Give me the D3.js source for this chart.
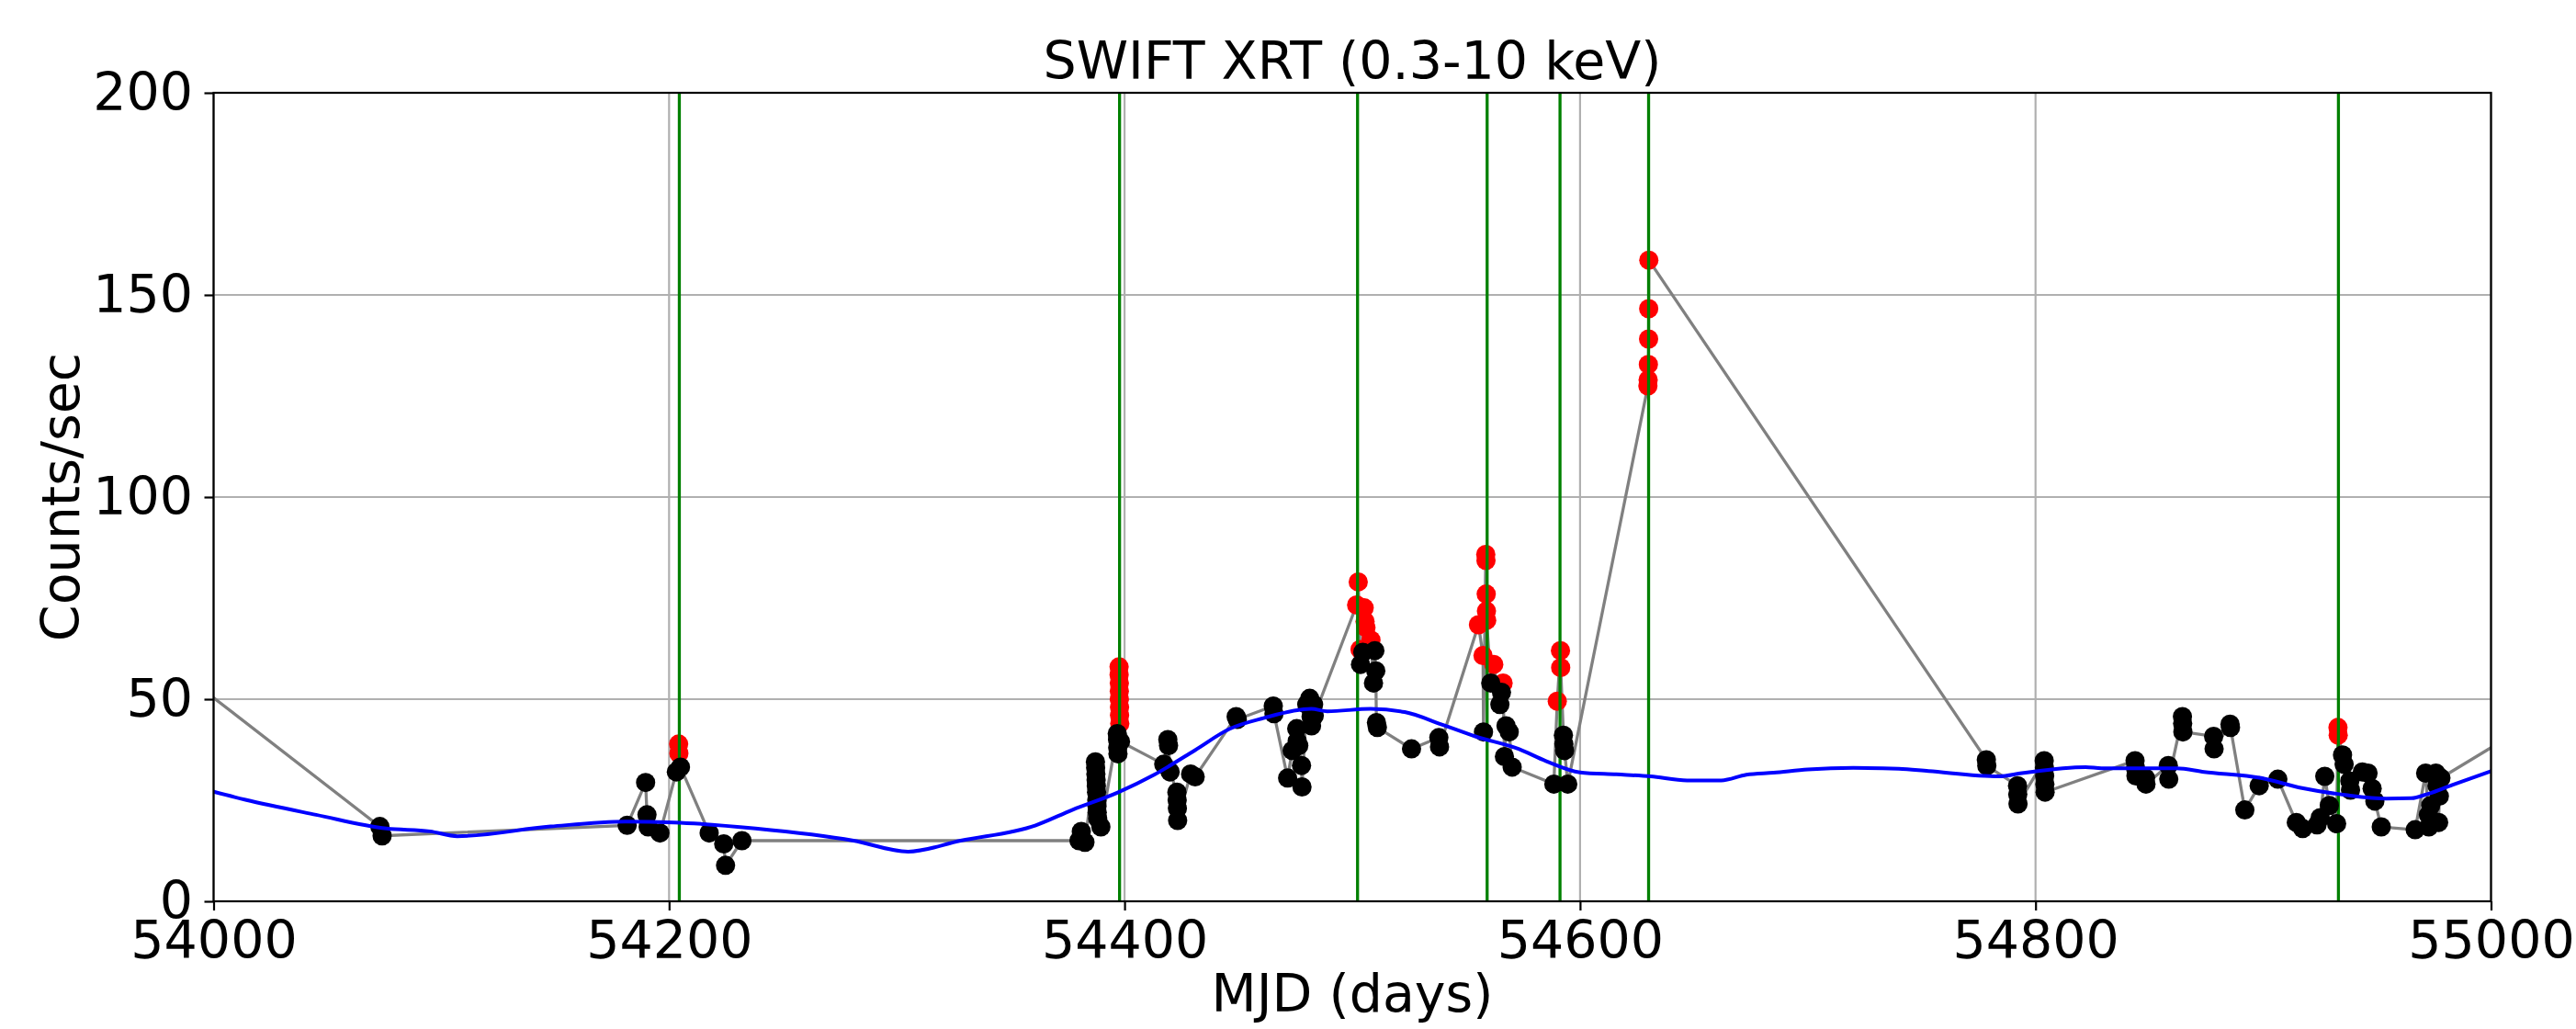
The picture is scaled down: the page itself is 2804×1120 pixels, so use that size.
<!DOCTYPE html>
<html>
<head>
<meta charset="utf-8">
<script src="https://cdn.jsdelivr.net/npm/d3@7"></script>
<style>
  body { margin: 0; background: #fff; }
  svg { display: block; }
  text { font-family: "DejaVu Sans", sans-serif; fill: #000; }
</style>
</head>
<body>
<div id="chart"></div>
<script>
// light curve points, [MJD, counts/sec]
var quietPoints = [
    [53990, 54.7],
    [54073, 18.5], [54074, 16.2],
    [54181.6, 18.8], [54189.7, 29.4], [54190.3, 21.4], [54190.8, 18.4], [54196, 16.9],
    [54203.2, 32.0], [54205, 33.2], [54217.6, 16.9], [54224, 14.2], [54224.8, 8.9], [54232, 15.0],
    [54380, 15.0], [54381, 17.3], [54382.6, 14.6],
    [54387.2, 34.5], [54387.3, 33], [54387.4, 31.5], [54387.5, 30], [54387.6, 28.5], [54387.7, 27],
    [54387.8, 25], [54387.9, 23.5], [54388, 22], [54388.2, 20.5], [54389.6, 18.4],
    [54396.8, 41.5], [54396.9, 40], [54397, 38], [54397.1, 36.5], [54398.2, 39.5],
    [54417.2, 33.9], [54419, 40.0], [54419.3, 38.5], [54420, 32.0],
    [54423.0, 27], [54423.1, 25], [54423.2, 23], [54423.3, 20],
    [54429, 31.5], [54431, 30.8],
    [54449, 45.7], [54449.5, 45.0],
    [54465.3, 48.3], [54465.6, 46.4],
    [54471.6, 30.5], [54473.6, 37.3], [54475.6, 42.7], [54475.8, 39.6], [54476.5, 38.5],
    [54477.7, 33.6], [54477.9, 28.3],
    [54480, 48.7], [54481.3, 50.2], [54481.9, 45.7], [54482.1, 43.4], [54483, 48.7], [54483.3, 45.9],
    [54503.6, 58.6], [54504.6, 61.6], [54509.3, 54], [54509.9, 62], [54510.3, 57],
    [54510.6, 44.2], [54511, 43],
    [54526, 37.7], [54538, 40.5], [54538.3, 38.2],
    [54557.6, 41.9], [54560.8, 54], [54564.8, 48.7], [54565.5, 51.7], [54566.8, 35.8],
    [54567.5, 43.4], [54568.9, 41.9], [54570.2, 33.2],
    [54588.5, 29], [54592.7, 41.1], [54592.9, 38.9], [54593.2, 37.3], [54594.6, 29],
    [54778.4, 35], [54778.6, 33.5],
    [54792.1, 28.6], [54792.2, 26.5], [54792.3, 24.1],
    [54803.8, 34.8], [54803.9, 33], [54804, 31], [54804.1, 29], [54804.2, 27],
    [54843.7, 34.8], [54843.9, 33], [54844.1, 31],
    [54848.3, 30.5], [54848.5, 29],
    [54858.3, 33.6], [54858.5, 30.2],
    [54864.5, 45.7], [54864.6, 44], [54864.7, 41.9],
    [54878.2, 40.8], [54878.4, 37.7],
    [54885.4, 43.8], [54885.6, 43],
    [54891.9, 22.6], [54898.2, 28.6], [54906.4, 30.2],
    [54914.5, 19.5], [54917.3, 18], [54923.6, 18.9], [54925, 20.7], [54927, 30.9],
    [54929, 23.7], [54932.2, 19.2],
    [54934.8, 36.2], [54935.5, 33.9], [54938, 29.8], [54938.3, 27.5],
    [54943.5, 32], [54946, 31.7], [54947.8, 27.9], [54949, 24.8], [54951.8, 18.4],
    [54966.7, 17.7], [54971.3, 31.7], [54972.5, 21.4], [54972.7, 18.4], [54973.5, 23.7],
    [54975.8, 31.7], [54976, 31], [54976.3, 28.6], [54977, 19.5], [54977.3, 26],
    [54978, 30.5],
    [55010, 41.4]
]

var flarePoints = [
    [54204.2, 38.9], [54204.3, 36.6],
    [54397.6, 58], [54397.6, 56], [54397.7, 54], [54397.7, 52], [54397.7, 50], [54397.8, 48],
    [54397.8, 46], [54397.9, 44],
    [54501.9, 73.3], [54502.6, 79], [54503.4, 62.3], [54505.2, 72.6], [54505.6, 69.2],
    [54506, 67.7], [54508.2, 64.6],
    [54555.4, 68.4], [54557.4, 60.8], [54558.6, 85.8], [54558.7, 84.3], [54558.8, 76],
    [54558.9, 71.8], [54559, 69.5], [54562.1, 58.6], [54566.2, 54],
    [54590, 49.5], [54591.4, 62], [54591.5, 57.8],
    [54629.8, 127.5], [54629.9, 129], [54630, 132.8], [54630.1, 139.1], [54630.15, 146.6],
    [54630.2, 158.6],
    [54932.8, 43], [54932.9, 41.1]
]

// flare start times (green vertical lines)
var flareTimes = [54204.5, 54397.8, 54502.3, 54559.2, 54591.2, 54630.1, 54933]

// running mean (blue curve)
var meanCurve = [
    [54000, 27.1], [54014, 25.1], [54045, 21.4], [54076, 18.0], [54095, 17.3], [54107, 16.1],
    [54148, 18.5], [54181, 19.7], [54202, 19.5], [54238, 18.0], [54281, 15.0], [54305, 12.3],
    [54328, 15.0], [54361, 18.8], [54377, 22.6], [54397, 26.9], [54413, 31.3], [54431, 37.4],
    [54446, 42.6], [54461, 45.3], [54482, 47.6], [54489, 47.0], [54508, 47.6], [54523, 46.8],
    [54539, 43.8], [54554, 40.8], [54573, 37.7], [54585, 34.7], [54600, 31.9], [54616, 31.4],
    [54631, 30.9], [54647, 29.9], [54662, 29.9], [54673, 31.3], [54685, 31.8], [54700, 32.6],
    [54720, 33.0], [54740, 32.8], [54753, 32.2], [54784, 30.9], [54794, 31.7], [54822, 33.2],
    [54829, 32.9], [54862, 32.9], [54874, 32.0], [54899, 30.5], [54917, 28.0], [54936, 26.3],
    [54954, 25.4], [54965, 25.5], [54972, 26.5], [54983, 28.8], [55000, 32.2]
]

var xTicks = [54000, 54200, 54400, 54600, 54800, 55000]
var yTicks = [0, 50, 100, 150, 200]

var svgWidth = 2804
var svgHeight = 1120

var margin = {
    top: 101,
    bottom: 139,
    left: 232.5,
    right: 92.5
}

var chartWidth = svgWidth - margin.left - margin.right
var chartHeight = svgHeight - margin.top - margin.bottom

var svg = d3.select("#chart")
    .append("svg")
    .attr("width", svgWidth)
    .attr("height", svgHeight)

var chartGroup = svg.append("g")
    .attr("transform", `translate(${margin.left}, ${margin.top})`)

var xScale = d3.scaleLinear()
    .domain([54000, 55000])
    .range([0, chartWidth])

var yScale = d3.scaleLinear()
    .domain([0, 200])
    .range([chartHeight, 0])

svg.append("defs").append("clipPath")
    .attr("id", "plotClip")
    .append("rect")
    .attr("width", chartWidth)
    .attr("height", chartHeight)

// grid
chartGroup.append("g")
    .selectAll("line")
    .data(xTicks)
    .enter()
    .append("line")
    .attr("x1", d => xScale(d))
    .attr("x2", d => xScale(d))
    .attr("y1", 0)
    .attr("y2", chartHeight)
    .attr("stroke", "#b0b0b0")
    .attr("stroke-width", 2.2)

chartGroup.append("g")
    .selectAll("line")
    .data(yTicks)
    .enter()
    .append("line")
    .attr("x1", 0)
    .attr("x2", chartWidth)
    .attr("y1", d => yScale(d))
    .attr("y2", d => yScale(d))
    .attr("stroke", "#b0b0b0")
    .attr("stroke-width", 2.2)

var plot = chartGroup.append("g")
    .attr("clip-path", "url(#plotClip)")

// all points in time order for the connecting line
var allPoints = quietPoints.concat(flarePoints).sort((a, b) => a[0] - b[0])

var line = d3.line()
    .x(d => xScale(d[0]))
    .y(d => yScale(d[1]))

plot.append("path")
    .datum(allPoints)
    .attr("d", line)
    .attr("fill", "none")
    .attr("stroke", "#808080")
    .attr("stroke-width", 3.3)

var radius = 10.5

plot.append("g")
    .selectAll("circle")
    .data(flarePoints)
    .enter()
    .append("circle")
    .attr("cx", d => xScale(d[0]))
    .attr("cy", d => yScale(d[1]))
    .attr("r", radius)
    .attr("fill", "#ff0000")

plot.append("g")
    .selectAll("line")
    .data(flareTimes)
    .enter()
    .append("line")
    .attr("x1", d => xScale(d))
    .attr("x2", d => xScale(d))
    .attr("y1", 0)
    .attr("y2", chartHeight)
    .attr("stroke", "#008000")
    .attr("stroke-width", 3.3)

plot.append("g")
    .selectAll("circle")
    .data(quietPoints)
    .enter()
    .append("circle")
    .attr("cx", d => xScale(d[0]))
    .attr("cy", d => yScale(d[1]))
    .attr("r", radius)
    .attr("fill", "#000000")

plot.append("path")
    .datum(meanCurve)
    .attr("d", line.curve(d3.curveMonotoneX))
    .attr("fill", "none")
    .attr("stroke", "#0000ff")
    .attr("stroke-width", 4)

// axes
var xAxis = d3.axisBottom(xScale).tickValues(xTicks).tickFormat(d3.format("d"))
    .tickSize(10).tickPadding(11.5)
var yAxis = d3.axisLeft(yScale).tickValues(yTicks).tickFormat(d3.format("d"))
    .tickSize(10).tickPadding(12.5)

var xAxisGroup = chartGroup.append("g")
    .attr("transform", `translate(0, ${chartHeight})`)
    .call(xAxis)

var yAxisGroup = chartGroup.append("g")
    .call(yAxis)

chartGroup.selectAll(".domain").remove()
chartGroup.selectAll(".tick line").attr("stroke", "#000").attr("stroke-width", 2.2)
chartGroup.selectAll(".tick text")
    .attr("font-size", 57)
    .attr("font-family", "DejaVu Sans")
    .attr("fill", "#000")

// frame
chartGroup.append("rect")
    .attr("width", chartWidth)
    .attr("height", chartHeight)
    .attr("fill", "none")
    .attr("stroke", "#000")
    .attr("stroke-width", 2.2)

// title
chartGroup.append("text")
    .attr("x", chartWidth / 2)
    .attr("y", 86 - margin.top)
    .attr("text-anchor", "middle")
    .attr("font-size", 57)
    .text("SWIFT XRT (0.3-10 keV)")

// x axis label
chartGroup.append("text")
    .attr("x", chartWidth / 2)
    .attr("y", chartHeight + 120)
    .attr("text-anchor", "middle")
    .attr("font-size", 57)
    .text("MJD (days)")

// y axis label
chartGroup.append("text")
    .attr("transform", "rotate(-90)")
    .attr("x", -chartHeight / 2)
    .attr("y", 86 - margin.left)
    .attr("text-anchor", "middle")
    .attr("font-size", 57)
    .text("Counts/sec")
</script>
</body>
</html>
